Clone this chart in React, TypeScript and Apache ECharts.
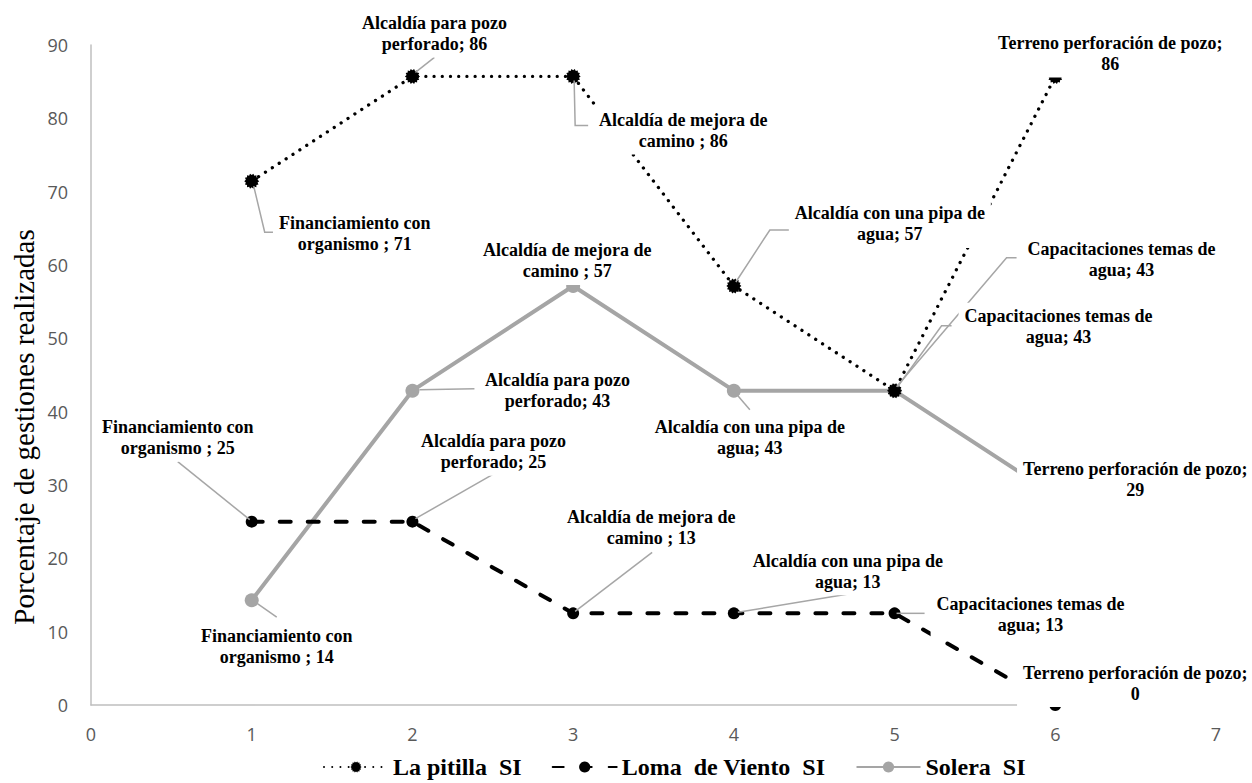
import React, { useEffect, useRef } from "react";
import * as echarts from "echarts";

// ---------------- data ----------------
const xPositions = [1, 2, 3, 4, 5, 6];
const pointLabels = [
  "Financiamiento con\norganismo ; ",
  "Alcaldía para pozo\nperforado; ",
  "Alcaldía de mejora de\ncamino ; ",
  "Alcaldía con una pipa de\nagua; ",
  "Capacitaciones temas de\nagua; ",
  "Terreno perforación de pozo;\n",
];
const seriesNames = ["La pitilla  SI", "Loma  de Viento  SI", "Solera  SI"];
const laPitilla = [71.43, 85.71, 85.71, 57.14, 42.86, 85.71];
const lomaDeViento = [25, 25, 12.5, 12.5, 12.5, 0];
const solera = [14.29, 42.86, 57.14, 42.86, 42.86, 28.57];
const xAxisRange = [0, 7, 1];
const yAxisRange = [0, 90, 10];
const yAxisTitle = "Porcentaje de gestiones realizadas";

// ---------------- label placement (pixel offsets, style only) ----------------
const pitillaLabelOffsets = [[103, 52], [22, -43], [110, 54], [156, -62], [227, -131], [55, -23]];
const lomaLabelOffsets = [[-74, -84], [81, -70], [78, -86], [114, -42], [136, 1], [80, -22]];
const soleraLabelOffsets = [[25, 46], [145, 0], [-6, -25], [16, 47], [164, -64], [80, -16]];

// leader line shapes, relative to the data point (pixels)
const pitillaLeaders = [
  [[2, 5], [13, 51], [28, 51]],
  [[3, -4], [22, -19]],
  [[1, 4], [2, 49], [15, 49]],
  [[2, -4], [36, -56], [58, -56]],
  [[2, -4], [112, -133], [122, -133]],
  null,
];
const lomaLeaders = [
  [[-2, -2], [-74, -60]],
  [[3, -3], [80, -47]],
  [[2, -2], [79, -61]],
  [[4, -1], [113, -19]],
  [[2, 0], [30, 0]],
  null,
];
const soleraLeaders = [
  [[5, 3], [25, 17]],
  [[7, -1], [62, -2]],
  null,
  [[4, 5], [16, 19]],
  [[3, -4], [47, -65], [57, -65]],
  null,
];

const SERIF = "Liberation Serif";

function gearSymbol(teeth: number, outer: number, inner: number) {
  const pts: string[] = [];
  for (let i = 0; i < teeth * 2; i++) {
    const r = i % 2 === 0 ? outer : inner;
    const a = (Math.PI * i) / teeth;
    pts.push(`${(50 + r * Math.cos(a)).toFixed(2)} ${(50 + r * Math.sin(a)).toFixed(2)}`);
  }
  return "path://M" + pts.join("L") + "Z";
}

function toPoints(values: number[]) {
  return values.map((v, i) => [xPositions[i], v]);
}

function labelSeries(id: string, values: number[], offsets: number[][]) {
  return {
    type: "scatter",
    name: id,
    z: 10,
    silent: true,
    data: toPoints(values),
    symbol: "circle",
    symbolSize: 2,
    itemStyle: { color: "rgba(0,0,0,0)", opacity: 1 },
    label: {
      show: true,
      position: "inside",
      formatter: (p: any) => pointLabels[p.dataIndex] + Math.round(p.value[1]),
      fontFamily: SERIF,
      fontWeight: "bold",
      fontSize: 18,
      lineHeight: 21,
      color: "#000",
      opacity: 1,
      align: "center",
      verticalAlign: "middle",
      backgroundColor: "#ffffff",
      padding: [3, 6],
    },
    labelLayout: (params: any) => ({
      dx: offsets[params.dataIndex][0],
      dy: offsets[params.dataIndex][1],
    }),
  };
}

function leaderSeries(id: string, values: number[], leaders: (number[][] | null)[]) {
  return {
    type: "custom",
    name: id,
    z: 9,
    silent: true,
    data: values.map((v, i) => [xPositions[i], v, i]),
    renderItem: (params: any, api: any) => {
      const idx = api.value(2);
      const shape = leaders[idx];
      if (!shape) return null;
      const c = api.coord([api.value(0), api.value(1)]);
      return {
        type: "polyline",
        shape: { points: shape.map((p) => [c[0] + p[0], c[1] + p[1]]) },
        style: { stroke: "#a6a6a6", lineWidth: 1.5, fill: "none" },
      };
    },
  };
}

export default function App() {
  const ref = useRef<HTMLDivElement>(null);

  useEffect(() => {
    if (!ref.current) return;
    const chart = echarts.init(ref.current, undefined, { renderer: "svg" });
    const axisLabelStyle = {
      color: "#595959",
      fontSize: 18,
      fontFamily: "Open Sans",
    };
    chart.setOption({
      animation: false,
      backgroundColor: "#ffffff",
      textStyle: { fontFamily: SERIF },
      grid: { left: 91, right: 36, top: 45, bottom: 78, containLabel: false },
      xAxis: {
        type: "value",
        min: xAxisRange[0],
        max: xAxisRange[1],
        interval: xAxisRange[2],
        axisLine: { show: true, lineStyle: { color: "#bfbfbf", width: 1.5 } },
        axisTick: { show: false },
        splitLine: { show: false },
        axisLabel: { ...axisLabelStyle, margin: 20 },
      },
      yAxis: {
        type: "value",
        min: yAxisRange[0],
        max: yAxisRange[1],
        interval: yAxisRange[2],
        axisLine: { show: true, lineStyle: { color: "#bfbfbf", width: 1.5 } },
        axisTick: { show: false },
        splitLine: { show: false },
        axisLabel: { ...axisLabelStyle, margin: 23 },
      },
      legend: {
        data: seriesNames,
        left: 318,
        top: 750,
        itemWidth: 64,
        itemHeight: 14,
        itemGap: 30,
        textStyle: { fontFamily: SERIF, fontWeight: "bold", fontSize: 24, color: "#000" },
      },
      graphic: [
        {
          type: "text",
          x: 24,
          y: 427,
          rotation: Math.PI / 2,
          style: {
            text: yAxisTitle,
            font: `29px ${SERIF}`,
            fill: "#000",
            align: "center",
            verticalAlign: "middle",
            textAlign: "center",
            textVerticalAlign: "middle",
          },
        },
      ],
      series: [
        {
          type: "line",
          name: seriesNames[0],
          data: toPoints(laPitilla),
          symbol: gearSymbol(14, 50, 40),
          symbolSize: 15,
          showAllSymbol: true,
          itemStyle: { color: "#000" },
          lineStyle: { color: "#000", width: 3.3, type: [0.01, 8.2], cap: "round" },
          z: 3,
        },
        {
          type: "line",
          name: seriesNames[1],
          data: toPoints(lomaDeViento),
          symbol: "circle",
          symbolSize: 12,
          showAllSymbol: true,
          itemStyle: { color: "#000" },
          lineStyle: { color: "#000", width: 4, type: [11, 17], cap: "round" },
          z: 3,
        },
        {
          type: "line",
          name: seriesNames[2],
          data: toPoints(solera),
          symbol: "circle",
          symbolSize: 14,
          showAllSymbol: true,
          itemStyle: { color: "#a5a5a5" },
          lineStyle: { color: "#a5a5a5", width: 4 },
          z: 2,
        },
        leaderSeries("ldr-pitilla", laPitilla, pitillaLeaders),
        leaderSeries("ldr-loma", lomaDeViento, lomaLeaders),
        leaderSeries("ldr-solera", solera, soleraLeaders),
        labelSeries("lbl-pitilla", laPitilla, pitillaLabelOffsets),
        labelSeries("lbl-loma", lomaDeViento, lomaLabelOffsets),
        labelSeries("lbl-solera", solera, soleraLabelOffsets),
      ],
    });
    return () => chart.dispose();
  }, []);

  return (
    <div
      ref={ref}
      style={{ position: "fixed", left: 0, top: 0, width: 1252, height: 783, background: "#fff" }}
    />
  );
}
